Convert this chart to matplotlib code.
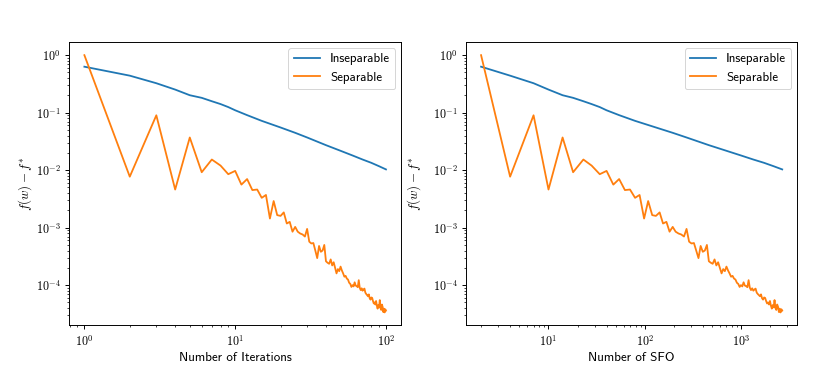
import matplotlib
matplotlib.use("Agg")
import matplotlib.pyplot as plt

S = 1.2
T = 13
plt.rcParams['mathtext.fontset'] = 'cm'
plt.rcParams['font.family'] = 'cmr10'
plt.rcParams['axes.formatter.use_mathtext'] = True
plt.rcParams['axes.unicode_minus'] = True
plt.rcParams['axes.linewidth'] = 0.8 * S
for a in ('xtick', 'ytick'):
    plt.rcParams[f'{a}.major.size'] = 3.5 * S
    plt.rcParams[f'{a}.minor.size'] = 2.0 * S
    plt.rcParams[f'{a}.major.width'] = 0.8 * S
    plt.rcParams[f'{a}.minor.width'] = 0.6 * S
    plt.rcParams[f'{a}.major.pad'] = 3.5 * S
    plt.rcParams[f'{a}.labelsize'] = 10 * S

# iterations 1..100
iterations = list(range(1, 101))

# SFO count at each iteration
sfo = [2, 4, 7, 10, 14, 18, 23, 28, 34, 40,
       47, 54, 62, 70, 79, 88, 98, 108, 119, 130,
       142, 154, 167, 180, 194, 208, 223, 238, 254, 270,
       287, 304, 322, 340, 359, 378, 398, 418, 439, 460,
       482, 504, 527, 550, 574, 598, 623, 648, 674, 700,
       727, 754, 782, 810, 839, 868, 898, 928, 959, 990,
       1022, 1054, 1087, 1120, 1154, 1188, 1223, 1258, 1294, 1330,
       1367, 1404, 1442, 1480, 1519, 1558, 1598, 1638, 1679, 1720,
       1762, 1804, 1847, 1890, 1934, 1978, 2023, 2068, 2114, 2160,
       2207, 2254, 2302, 2350, 2399, 2448, 2498, 2548, 2599, 2650]

# Separable (orange), one value per iteration
separable = [1.0, 0.0077, 0.090, 0.0046, 0.037, 0.0092, 0.0153, 0.0120, 0.0085, 0.0097,
             0.0056, 0.0070, 0.0045, 0.0046, 0.0033, 0.0037, 0.00144, 0.0029, 0.00165, 0.00160,
             0.00184, 0.00118, 0.00126, 0.00085, 0.00103, 0.00085, 0.00079, 0.00076, 0.00070, 0.00095,
             0.00057, 0.00053, 0.00054, 0.00040, 0.000295, 0.00048, 0.00038, 0.00040, 0.00050, 0.00026,
             0.000245, 0.000235, 0.00028, 0.00022, 0.00025, 0.00020, 0.00016, 0.00019, 0.000175, 0.00021,
             0.00018, 0.00016, 0.00014, 0.000145, 0.00013, 0.000125, 0.00011, 0.000105, 9.3e-5, 1.0e-4,
             9.5e-5, 1.12e-4, 9.8e-5, 9.6e-5, 9.2e-5, 1.22e-4, 9.0e-5, 8.2e-5, 8.8e-5, 8.0e-5,
             8.4e-5, 8.7e-5, 7.4e-5, 7.0e-5, 6.7e-5, 6.4e-5, 6.9e-5, 5.9e-5, 5.6e-5, 6.1e-5,
             6.0e-5, 5.3e-5, 4.8e-5, 5.0e-5, 4.6e-5, 5.3e-5, 4.4e-5, 3.9e-5, 4.5e-5, 4.1e-5,
             5.5e-5, 4.0e-5, 3.7e-5, 4.6e-5, 4.2e-5, 3.4e-5, 3.9e-5, 3.35e-5, 3.8e-5, 3.6e-5]

# Inseparable (blue), read at selected iterations
insep_iters = [1, 2, 3, 4, 5, 6, 7, 8, 9, 10, 12, 15, 20, 25, 30, 40, 50, 60, 70, 80, 90, 100]
inseparable = [0.63, 0.44, 0.325, 0.252, 0.201, 0.181, 0.158, 0.141, 0.125, 0.110,
               0.0905, 0.072, 0.0552, 0.0446, 0.037, 0.0272, 0.0217, 0.0180, 0.0153, 0.0134,
               0.0117, 0.0103]

fig = plt.figure(figsize=(831/72, 373/72), dpi=72)
ax1 = fig.add_axes([0.0834, 0.1279, 0.3992, 0.7587])
ax2 = fig.add_axes([0.5608, 0.1279, 0.3986, 0.7587])

insep_sfo = [sfo[k - 1] for k in insep_iters]

for ax, xs_ins, xs_sep, xlabel, ylx in [
        (ax1, insep_iters, iterations, 'Number of Iterations', -0.105),
        (ax2, insep_sfo, sfo, 'Number of SFO', -0.13)]:
    ax.plot(xs_ins, inseparable, color='#1f77b4', lw=1.5 * S, label='Inseparable')
    ax.plot(xs_sep, separable, color='#ff7f0e', lw=1.5 * S, label='Separable')
    ax.set_xscale('log')
    ax.set_yscale('log')
    ax.set_xlabel(xlabel, fontfamily='cmss10', fontsize=T, labelpad=3)
    ax.set_ylabel(r'$f(w) - f^{*}$', fontsize=T)
    ax.yaxis.set_label_coords(ylx, 0.5)
    ax.legend(loc='upper right', prop={'family': 'cmss10', 'size': T},
              borderaxespad=0.45, handlelength=2.0)

fig.savefig('out.png', dpi=72)
